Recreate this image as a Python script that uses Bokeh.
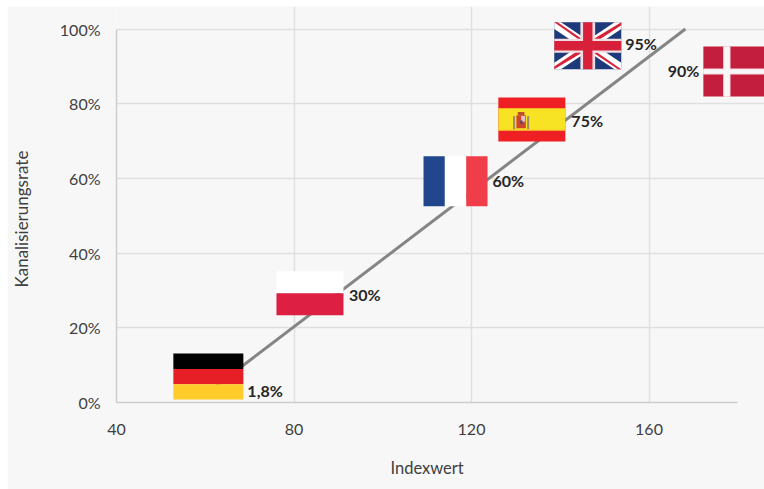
from bokeh.core.properties import value
from bokeh.embed import file_html
from bokeh.models import FixedTicker, Title
from bokeh.plotting import figure
from bokeh.resources import INLINE

# Country markers: index value, sewer connection rate and stated label
countries = ["Deutschland", "Polen", "Frankreich", "Spanien", "Großbritannien", "Dänemark"]
index_values = [60.7, 83.6, 116.4, 133.6, 146.2, 179.8]
rates = [1.8, 30, 60, 75, 95, 90]
rate_labels = ["1,8%", "30%", "60%", "75%", "95%", "90%"]

# Trend line
trend_index = [62, 168.2]
trend_rate = [4, 100]

# Axes
x_ticks = [40, 80, 120, 160]
y_ticks = [0, 20, 40, 60, 80, 100]
y_tick_labels = {v: f"{v}%" for v in y_ticks}
x_title = "Indexwert"
y_title = "Kanalisierungsrate"

# Scale of the plot frame, pixels per axis unit
FRAME_W, FRAME_H = 648, 396
PX_X, PX_Y = 4.4375, 3.735
FONT = "Lato"

p = figure(
    width=757, height=483, frame_width=FRAME_W, frame_height=FRAME_H,
    x_range=(40, 40 + FRAME_W / PX_X), y_range=(0, FRAME_H / PX_Y),
    output_backend="svg", toolbar_location=None,
    background_fill_color="#f7f7f7", border_fill_color="#f7f7f7",
    outline_line_color=None, min_border_left=109, min_border_right=0,
    min_border_top=0, min_border_bottom=87,
)
p.margin = (6, 0, 0, 7)

for grid in (p.xgrid[0], p.ygrid[0]):
    grid.grid_line_color = "#e0e0e0"
    grid.grid_line_width = 1.5
p.xgrid[0].ticker = FixedTicker(ticks=x_ticks)
p.ygrid[0].ticker = FixedTicker(ticks=y_ticks)
p.xgrid[0].bounds = (0, 100)
p.ygrid[0].bounds = (40, 180)

p.xaxis[0].ticker = FixedTicker(ticks=x_ticks)
p.yaxis[0].ticker = FixedTicker(ticks=y_ticks)
p.yaxis[0].major_label_overrides = y_tick_labels
p.xaxis[0].bounds = (40, 180)
p.yaxis[0].bounds = (0, 100)
for axis, standoff in ((p.xaxis[0], 15), (p.yaxis[0], 10)):
    axis.axis_line_color = "#cdcdcd"
    axis.axis_line_width = 1.5
    axis.major_tick_line_color = None
    axis.minor_tick_line_color = None
    axis.major_label_text_font = FONT
    axis.major_label_text_font_size = "16px"
    axis.major_label_text_color = "#404040"
    axis.major_label_standoff = standoff

p.line(trend_index, trend_rate, line_color="#858585", line_width=3)


def flag_mapper(i, w, h, nudge):
    """Return a function turning flag-local (u, v) into data coordinates."""
    cx = index_values[i]
    cy = rates[i] + nudge
    def to_data(u, v):
        return cx + (u - 0.5) * w / PX_X, cy + (0.5 - v) * h / PX_Y
    return to_data


def polygon(m, points, color):
    xs, ys = zip(*(m(u, v) for u, v in points))
    p.patch(list(xs), list(ys), fill_color=color, line_color=None)


def box(m, u0, v0, u1, v1, color):
    polygon(m, [(u0, v0), (u1, v0), (u1, v1), (u0, v1)], color)


# Germany
m = flag_mapper(0, 70, 46, 5.15)
box(m, 0, 0, 1, 1 / 3, "#000000")
box(m, 0, 1 / 3, 1, 2 / 3, "#e61e25")
box(m, 0, 2 / 3, 1, 1, "#ffcc29")

# Poland
m = flag_mapper(1, 67, 44, -0.75)
box(m, 0, 0, 1, 0.5, "#ffffff")
box(m, 0, 0.5, 1, 1, "#dc1f42")

# France
m = flag_mapper(2, 64, 50, -0.75)
box(m, 0, 0, 1 / 3, 1, "#21468b")
box(m, 1 / 3, 0, 2 / 3, 1, "#ffffff")
box(m, 2 / 3, 0, 1, 1, "#ef3e4a")

# Spain, with a simplified coat of arms
m = flag_mapper(3, 67, 44, 0.75)
box(m, 0, 0, 1, 1, "#ef2024")
box(m, 0, 0.24, 1, 0.76, "#f8e224")
box(m, 0, 0.73, 1, 0.76, "#f0a92a")
box(m, 0.22, 0.42, 0.25, 0.72, "#a08a6a")
box(m, 0.43, 0.42, 0.46, 0.72, "#a08a6a")
box(m, 0.29, 0.33, 0.39, 0.40, "#b8502a")
box(m, 0.27, 0.40, 0.41, 0.70, "#d0452a")
box(m, 0.34, 0.42, 0.40, 0.55, "#e8c0c0")
box(m, 0.33, 0.52, 0.36, 0.60, "#3a4a9a")

# United Kingdom
m = flag_mapper(4, 67, 47, 0.5)
box(m, 0, 0, 1, 1, "#1f3a7a")
polygon(m, [(0, 0), (0.1, 0), (1, 0.86), (1, 1), (0.9, 1), (0, 0.14)], "#ffffff")
polygon(m, [(1, 0), (1, 0.14), (0.1, 1), (0, 1), (0, 0.86), (0.9, 0)], "#ffffff")
polygon(m, [(0, 0), (0.05, 0), (0.42, 0.36), (0.36, 0.36)], "#d7213b")
polygon(m, [(1, 0), (1, 0.06), (0.62, 0.42), (0.58, 0.36)], "#d7213b")
polygon(m, [(0, 1), (0, 0.94), (0.38, 0.58), (0.42, 0.64)], "#d7213b")
polygon(m, [(1, 1), (0.95, 1), (0.58, 0.64), (0.64, 0.64)], "#d7213b")
box(m, 0.39, 0, 0.61, 1, "#f0dfe2")
box(m, 0, 0.35, 1, 0.65, "#f0dfe2")
box(m, 0.43, 0, 0.57, 1, "#d7213b")
box(m, 0, 0.40, 1, 0.60, "#d7213b")

# Denmark, running off the right-hand side of the frame
m = flag_mapper(5, 67, 50, -1.4)
box(m, 0, 0, 1, 1, "#c41e3f")
box(m, 0.295, 0, 0.405, 1, "#f7d8de")
box(m, 0, 0.44, 1, 0.56, "#f7d8de")
box(m, 0.31, 0, 0.39, 1, "#f7f7f7")
box(m, 0, 0.46, 1, 0.54, "#f7f7f7")

# Value labels beside the flags
label_dy = [-5.0, 4.5, 2.5, -1.5, -4.5, 4]
label_dx = [39, 39, 37, 39.5, 37.5, -37.5]
label_align = ["left", "left", "left", "left", "left", "right"]
for x, y, text, dx, dy, align in zip(index_values, rates, rate_labels, label_dx, label_dy, label_align):
    p.text(
        [x], [y], text=[text], x_offset=dx, y_offset=dy, text_align=align,
        text_baseline="middle", text_font=value(FONT), text_font_style="bold",
        text_font_size="16px", text_color="#262626",
    )

# Axis titles sit off the frame's centre, so they are side-panel titles with an offset
p.add_layout(Title(
    text=x_title, align="left", offset=274, standoff=36, text_font=FONT,
    text_font_size="16.5px", text_font_style="normal", text_color="#404040",
), "below")
p.add_layout(Title(
    text=y_title, align="left", offset=115, standoff=0, padding=(0, 0, 0, 25), text_font=FONT,
    text_font_size="17px", text_font_style="normal", text_color="#404040",
), "left")

open("out.html", "w").write(file_html(p, INLINE))
